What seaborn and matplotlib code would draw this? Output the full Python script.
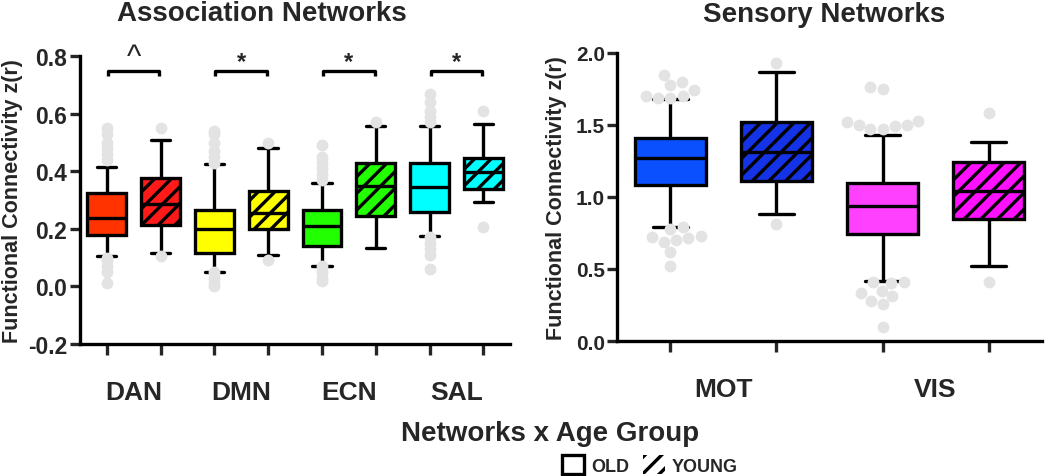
import numpy as np
import pandas as pd
import matplotlib.pyplot as plt
import seaborn as sns
from matplotlib.patches import Patch

sns.set_style("ticks")
plt.rcParams['font.family'] = ['Liberation Sans', 'DejaVu Sans']
plt.rcParams['font.weight'] = 'bold'
plt.rcParams['hatch.linewidth'] = 2.4

# ---- Association networks: five-number summaries ----
assoc_conds = ["DAN OLD", "DAN YOUNG", "DMN OLD", "DMN YOUNG",
               "ECN OLD", "ECN YOUNG", "SAL OLD", "SAL YOUNG"]
assoc_lo = [0.105, 0.115, 0.05, 0.11, 0.07, 0.135, 0.175, 0.294]
assoc_q1 = [0.18, 0.215, 0.117, 0.20, 0.14, 0.243, 0.258, 0.34]
assoc_med = [0.236, 0.285, 0.198, 0.256, 0.21, 0.348, 0.345, 0.397]
assoc_q3 = [0.323, 0.378, 0.267, 0.33, 0.267, 0.43, 0.43, 0.447]
assoc_hi = [0.416, 0.51, 0.424, 0.48, 0.36, 0.556, 0.556, 0.563]
assoc_out = {
    "DAN OLD": [0.44, 0.46, 0.48, 0.50, 0.53, 0.55, 0.10, 0.09, 0.07, 0.05, 0.01],
    "DAN YOUNG": [0.55, 0.105],
    "DMN OLD": [0.43, 0.45, 0.47, 0.50, 0.53, 0.54, 0.05, 0.03, 0.01, 0.0],
    "DMN YOUNG": [0.50, 0.09],
    "ECN OLD": [0.37, 0.39, 0.41, 0.43, 0.45, 0.49, 0.07, 0.05, 0.03, 0.02],
    "ECN YOUNG": [0.57],
    "SAL OLD": [0.57, 0.59, 0.61, 0.64, 0.67, 0.17, 0.15, 0.13, 0.11, 0.06],
    "SAL YOUNG": [0.61, 0.205],
}
assoc_colors = ["#FF3300", "#FF1A1A", "#FFFF00", "#FFFF00",
                "#22FF00", "#22FF00", "#00FFFF", "#00FFFF"]
assoc_groups = ["DAN", "DMN", "ECN", "SAL"]
assoc_sig = ["^", "*", "*", "*"]

# ---- Sensory networks ----
sens_conds = ["MOT OLD", "MOT YOUNG", "VIS OLD", "VIS YOUNG"]
sens_lo = [0.79, 0.88, 0.42, 0.52]
sens_q1 = [1.08, 1.11, 0.74, 0.85]
sens_med = [1.27, 1.31, 0.94, 1.04]
sens_q3 = [1.41, 1.52, 1.10, 1.24]
sens_hi = [1.68, 1.87, 1.43, 1.38]
sens_out = {
    "MOT OLD": [1.85, 1.80, 1.78, 1.74, 1.70, 1.70, 1.69, 1.69,
                0.79, 0.78, 0.73, 0.72, 0.715, 0.70, 0.69, 0.62, 0.52],
    "MOT YOUNG": [1.93, 0.81],
    "VIS OLD": [1.765, 1.75, 1.53, 1.52, 1.50, 1.50, 1.49, 1.47, 1.47,
                0.41, 0.41, 0.40, 0.35, 0.33, 0.31, 0.28, 0.26, 0.10],
    "VIS YOUNG": [1.58, 0.41],
}
sens_colors = ["#0A50FF", "#1533E6", "#FF40FF", "#FF10FF"]
sens_groups = ["MOT", "VIS"]


def five_num_frame(conds, lo, q1, med, q3, hi):
    rows = []
    for c, a, b, m, d, e in zip(conds, lo, q1, med, q3, hi):
        for v in (a, b, m, d, e):
            rows.append({"cond": c, "value": v})
    return pd.DataFrame(rows)


def outlier_frame(out):
    return pd.DataFrame([{"cond": c, "value": v} for c, vals in out.items() for v in vals])


def draw_panel(ax, conds, lo, q1, med, q3, hi, out, colors, groups, width, swarm, ytick_size):
    box_df = five_num_frame(conds, lo, q1, med, q3, hi)
    sns.boxplot(data=box_df, x="cond", y="value", hue="cond", order=conds,
                hue_order=conds, palette=colors, saturation=1, whis=np.inf, width=width,
                linewidth=2.4, linecolor="black", legend=False, ax=ax)
    # hatch the YOUNG boxes
    for p in ax.patches:
        ext = p.get_path().get_extents()
        idx = int(round(ext.x0 + ext.width / 2))
        if 0 <= idx < len(conds) and "YOUNG" in conds[idx]:
            p.set_hatch("//")
    out_df = outlier_frame(out)
    if swarm:
        sns.swarmplot(data=out_df, x="cond", y="value", order=conds,
                      color="#E3E3E3", size=8.5, zorder=4, ax=ax)
    else:
        sns.stripplot(data=out_df, x="cond", y="value", order=conds,
                      color="#E3E3E3", size=8.5, jitter=False, zorder=4, ax=ax)

    n = len(conds)
    ax.set_xlim(-0.5, n - 0.5)
    ax.set_xticks(range(n))
    ax.set_xticklabels([""] * n)
    ax.set_xticks([2 * i + 0.5 for i in range(len(groups))], groups, minor=True)
    ax.tick_params(axis="x", which="minor", length=0, pad=26, labelsize=19)
    ax.tick_params(axis="x", which="major", length=8, width=2.4, direction="out")
    ax.tick_params(axis="y", length=7, width=2.4, pad=2, labelsize=ytick_size)
    for lab in ax.get_xticklabels(minor=True) + ax.get_yticklabels():
        lab.set_fontweight("bold")
    ax.set_xlabel("")
    ax.set_ylabel("Functional Connectivity z(r)", fontsize=15.5, fontweight="bold")
    sns.despine(ax=ax)
    for s in ("left", "bottom"):
        ax.spines[s].set_linewidth(2.4)
        ax.spines[s].set_color("black")


fig = plt.figure(figsize=(10.5, 4.77), dpi=100)
ax1 = fig.add_axes([0.076, 0.277, 0.410, 0.603])
ax2 = fig.add_axes([0.588, 0.283, 0.404, 0.604])

draw_panel(ax1, assoc_conds, assoc_lo, assoc_q1, assoc_med, assoc_q3, assoc_hi,
           assoc_out, assoc_colors, assoc_groups, 0.72, swarm=False, ytick_size=16.5)
ax1.set_ylim(-0.2, 0.8)
ax1.set_yticks(np.arange(-0.2, 0.81, 0.2))
ax1.set_yticklabels([f"{v:.1f}" for v in np.arange(-0.2, 0.81, 0.2)])
ax1.yaxis.set_label_coords(-0.133, 0.5)

# significance brackets
for i, sym in enumerate(assoc_sig):
    x0, x1 = 2 * i + 0.02, 2 * i + 0.98
    ax1.plot([x0, x0, x1, x1], [0.733, 0.75, 0.75, 0.733], color="black",
             lw=2.4, clip_on=False, solid_capstyle="butt")
    if sym == "^":
        ax1.text(2 * i + 0.5, 0.745, sym, ha="center", va="bottom",
                 fontsize=22, fontweight="normal", clip_on=False)
    else:
        ax1.text(2 * i + 0.5, 0.78, sym, ha="center", va="center",
                 fontsize=17, clip_on=False)

draw_panel(ax2, sens_conds, sens_lo, sens_q1, sens_med, sens_q3, sens_hi,
           sens_out, sens_colors, sens_groups, 0.67, swarm=True, ytick_size=15)
ax2.set_ylim(0, 2.0)
ax2.set_yticks(np.arange(0, 2.01, 0.5))
ax2.set_yticklabels([f"{v:.1f}" for v in np.arange(0, 2.01, 0.5)])
ax2.yaxis.set_label_coords(-0.118, 0.5)

fig.text(262 / 1050, 1 - 14 / 477, "Association Networks", ha="center", va="center",
         fontsize=20, fontweight="bold")
fig.text(824 / 1050, 1 - 15 / 477, "Sensory Networks", ha="center", va="center",
         fontsize=20, fontweight="bold")
fig.text(550 / 1050, 1 - 434 / 477, "Networks x Age Group", ha="center", va="center",
         fontsize=20, fontweight="bold")

handles = [Patch(facecolor="white", edgecolor="black", linewidth=2.4, label="OLD"),
           Patch(facecolor="white", edgecolor="black", hatch="//", linewidth=0, label="YOUNG")]
fig.legend(handles=handles, loc="center", bbox_to_anchor=(650 / 1050, 1 - 466 / 477),
           ncol=2, frameon=False, prop={"size": 13, "weight": "bold"},
           handlelength=1.2, handleheight=1.2, handletextpad=0.4, columnspacing=0.8,
           borderpad=0)

fig.savefig("out.png", dpi=100, facecolor="white")
